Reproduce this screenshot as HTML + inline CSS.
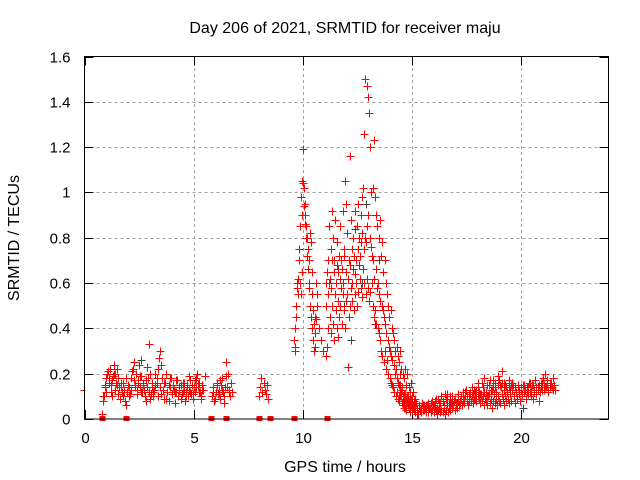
<!DOCTYPE html>
<html><head><meta charset="utf-8"><style>
html,body{margin:0;padding:0;background:#fff}
svg{display:block;font-family:"Liberation Sans","DejaVu Sans",sans-serif}
</style></head><body>
<svg id="chart" width="640" height="480" viewBox="0 0 640 480" xmlns="http://www.w3.org/2000/svg">
<text x="345" y="33" font-size="16" text-anchor="middle">Day 206 of 2021, SRMTID for receiver maju</text>
<text x="0" y="0" font-size="16" text-anchor="middle" transform="translate(19,238) rotate(-90)">SRMTID / TECUs</text>
<text x="345" y="472" font-size="16" text-anchor="middle">GPS time / hours</text>
<g id="grid"></g>
<g id="ticks"></g>
<g id="marks" shape-rendering="crispEdges"></g>
<rect x="84.5" y="56.5" width="524" height="362.5" fill="none" stroke="#000" stroke-width="1"/>
</svg>
<script>
const xTicks=[0,5,10,15,20];
const yTicks=[0,0.2,0.4,0.6,0.8,1,1.2,1.4,1.6];
const yTickLabels=["0","0.2","0.4","0.6","0.8","1","1.2","1.4","1.6"];
const segStart=[0.8,0.85,4.6,5.85,5.9,8.0,9.6,9.62,10.72,11.05,11.08,11.06,14.4,14.42,14.45];
const segStep=[0.05,0.07,0.05,0.05,0.08,0.05,0.04,0.04,0.1,0.055,0.055,0.055,0.05,0.1,0.07];
const segVals=[
[0.02,0.08,0.10,0.15,0.12,0.20,0.18,0.22,0.15,0.10,0.19,0.24,0.20,0.16,0.22,0.18,0.14,0.16,0.12,0.10,0.13,0.08,0.06,0.12,0.15,0.14,0.11,0.18,0.22,0.25,0.15,0.20,0.13,0.17,0.24,0.14,0.19,0.12,0.16,0.10,0.08,0.14,0.18,0.12,0.09,0.11,0.14,0.10,0.13,0.20,0.16,0.22,0.27,0.30,0.24,0.18,0.13,0.09,0.16,0.20,0.12,0.08,0.14,0.18,0.11,0.15,0.13,0.07,0.12,0.17,0.10,0.14,0.09,0.11,0.16,0.13],
[0.10,0.14,0.18,0.21,0.16,0.12,0.17,0.20,0.13,0.15,0.11,0.09,0.14,0.16,0.12,0.18,0.15,0.10,0.13,0.21,0.17,0.14,0.11,0.16,0.19,0.12,0.15,0.13,0.17,0.23,0.33,0.20,0.16,0.12,0.15,0.18,0.10,0.14,0.11,0.13,0.16,0.09,0.12,0.15,0.18,0.11,0.14,0.12,0.17,0.10,0.13,0.15,0.12,0.16,0.10,0.14,0.19,0.12,0.15,0.11,0.17,0.14,0.16,0.12,0.09,0.13],
[0.08,0.12,0.15,0.10,0.13,0.17,0.11,0.09,0.14,0.12,0.18,0.20,0.14,0.16,0.12,0.10,0.15,0.13,0.19],
[0.10,0.14,0.08,0.12,0.16,0.11,0.13,0.09,0.15,0.18,0.12,0.07,0.14,0.25,0.20,0.13,0.10,0.16,0.12],
[0.12,0.09,0.15,0.11,0.17,0.13,0.10,0.19,0.14,0.12,0.16],
[0.10,0.14,0.18,0.12,0.16,0.13,0.11,0.15,0.09],
[0.35,0.32,0.45,0.60,0.55,0.62,0.75,0.85,0.98,1.05,1.19,1.02,0.90,0.95,0.85,0.80,0.75,0.70,0.82,0.78,0.65,0.55,0.48,0.42,0.45,0.60,0.55],
[0.30,0.40,0.50,0.58,0.62,0.70,0.60,0.55,0.65,0.90,1.04,0.94,0.86,0.80,0.72,0.66,0.60,0.58,0.50,0.45,0.40,0.35,0.30,0.32,0.38,0.44,0.50],
[0.40,0.35,0.30],
[0.60,0.65,0.70,0.85,0.75,0.92,0.80,0.70,0.88,0.78,0.65,0.72,0.85,0.70,0.92,0.75,1.05,0.95,0.82,0.70,1.16,0.88,0.75,0.80,0.92,0.70,0.85,0.95,0.80,0.90,0.98,1.02,1.26,1.50,1.47,1.42,1.35,1.20,1.00,1.02,1.23,0.98,0.90,0.85,0.80,0.88,0.72,0.78,0.65,0.70,0.60,0.55,0.50,0.45,0.48,0.40,0.38,0.35,0.30,0.32,0.28,0.25,0.30,0.22,0.20,0.18,0.22,0.15,0.20,0.14,0.12,0.16,0.10,0.12,0.09],
[0.50,0.55,0.60,0.62,0.58,0.70,0.65,0.55,0.60,0.68,0.52,0.62,0.58,0.66,0.60,0.72,0.65,0.55,0.62,0.70,0.68,0.60,0.66,0.72,0.64,0.70,0.75,0.68,0.72,0.78,0.82,0.75,0.80,0.78,0.85,0.90,0.80,0.76,0.72,0.70,0.62,0.66,0.58,0.60,0.55,0.52,0.50,0.48,0.45,0.42,0.38,0.35,0.32,0.30,0.28,0.26,0.24,0.20,0.22,0.18,0.16,0.15,0.12,0.14,0.10,0.11,0.09,0.10,0.08,0.07,0.09,0.08,0.06,0.07,0.05],
[0.28,0.32,0.40,0.45,0.38,0.50,0.42,0.35,0.48,0.40,0.36,0.45,0.50,0.42,0.55,0.48,0.40,0.52,0.23,0.45,0.50,0.58,0.52,0.48,0.55,0.60,0.50,0.56,0.62,0.58,0.54,0.66,0.60,0.55,0.62,0.58,0.52,0.56,0.60,0.50,0.45,0.48,0.42,0.40,0.38,0.35,0.30,0.28,0.25,0.30,0.22,0.26,0.20,0.18,0.16,0.15,0.14,0.12,0.10,0.12,0.09,0.08,0.10,0.07,0.06,0.08,0.05,0.06,0.07,0.05,0.04,0.06,0.05,0.04,0.03],
[0.15,0.12,0.10,0.13,0.08,0.11,0.09,0.07,0.10,0.08,0.06,0.09,0.07,0.05,0.08,0.06,0.07,0.05,0.06,0.04,0.05,0.07,0.04,0.06,0.05,0.03,0.06,0.04,0.05,0.03,0.04,0.06,0.03,0.05,0.04,0.02,0.04,0.05,0.03,0.04,0.03,0.05,0.02,0.04,0.06,0.03,0.05,0.04,0.07,0.05,0.06,0.04,0.07,0.05,0.08,0.06,0.07,0.09,0.06,0.08,0.07,0.10,0.08,0.06,0.09,0.11,0.08,0.10,0.07,0.09,0.12,0.08,0.10,0.09,0.07,0.11,0.08,0.10,0.06,0.09,0.08,0.06,0.10,0.07,0.09,0.05,0.08,0.11,0.07,0.09,0.06,0.10,0.08,0.07,0.11,0.09,0.06,0.10,0.08,0.12,0.09,0.07,0.11,0.08,0.13,0.10,0.07,0.12,0.09,0.14,0.11,0.08,0.13,0.10,0.15,0.12,0.09,0.14,0.11,0.16,0.12,0.10,0.15,0.09,0.13,0.17,0.11,0.14,0.08,0.12,0.16,0.13,0.18,0.15,0.20,0.14,0.17,0.13,0.16,0.15,0.14,0.18,0.15,0.13],
[0.10,0.07,0.05,0.04,0.06,0.03,0.05,0.04,0.02,0.05,0.03,0.06,0.04,0.07,0.05,0.08,0.06,0.09,0.07,0.10,0.08,0.11,0.09,0.07,0.10,0.08,0.06,0.09,0.07,0.10,0.12,0.09,0.11,0.08,0.13,0.10,0.14,0.11,0.16,0.12,0.10,0.15,0.13,0.17,0.14,0.19,0.15,0.21,0.16,0.14,0.17,0.15],
[0.20,0.14,0.09,0.11,0.06,0.08,0.05,0.07,0.04,0.06,0.03,0.05,0.02,0.04,0.03,0.05,0.04,0.06,0.03,0.05,0.07,0.04,0.06,0.08,0.05,0.09,0.07,0.10,0.08,0.06,0.09,0.11,0.07,0.10,0.08,0.06,0.09,0.07,0.11,0.08,0.10,0.12,0.09,0.13,0.10,0.08,0.12,0.14,0.11,0.09,0.13,0.16,0.12,0.10,0.14,0.18,0.12,0.15,0.11,0.17,0.13,0.14,0.16,0.12,0.15,0.17,0.14,0.16,0.13,0.15,0.12,0.14,0.13,0.16,0.15,0.14,0.12,0.15,0.13,0.14,0.11,0.15,0.13,0.12,0.14,0.16,0.13,0.15,0.12,0.14,0.13,0.15,0.14,0.16,0.13,0.14,0.15,0.12,0.14,0.16,0.13]
];
const darkTimes=[2.6,11.6,11.9,12.2,12.4,12.7,12.9,13.3,13.5,13.7,14.0,20.1];
const darkVals=[0.26,0.66,0.50,0.35,0.84,0.60,0.95,0.42,0.70,0.25,0.18,0.05];
const zeroTimes=[0.8,1.9,5.8,6.5,8.0,8.5,9.6,11.1];
const edgeTimes=[0];
const edgeVals=[0.13];

const NS="http://www.w3.org/2000/svg";
const X0=84.5,X1=608.5,Y0=419,Y1=56.5;
const xs=t=>X0+(t/24)*(X1-X0);
const ys=v=>Y0-(v/1.6)*(Y0-Y1);
function mk(tag,attrs,parent){const e=document.createElementNS(NS,tag);for(const k in attrs)e.setAttribute(k,attrs[k]);parent.appendChild(e);return e;}
const grid=document.getElementById('grid'),ticks=document.getElementById('ticks'),marks=document.getElementById('marks');
xTicks.forEach((t,i)=>{
  const x=Math.round(xs(t))+0.5;
  if(i>0){const g=mk('line',{x1:x,x2:x,y1:Y0,y2:Y1,stroke:'#a0a0a0','stroke-dasharray':'3,3'},grid);
  
  }
  const a=mk('line',{x1:x,x2:x,y1:Y0,y2:Y0-9,stroke:'#000'},ticks);
  
  
  const b=mk('line',{x1:x,x2:x,y1:Y1,y2:Y1+9,stroke:'#000'},ticks);
  
  
  const l=mk('text',{x:x,y:Y0+24,'font-size':15,'text-anchor':'middle'},ticks);l.textContent=String(t);
  
  
});
yTicks.forEach((v,i)=>{
  const y=Math.round(ys(v))+0.5;
  if(i>0&&i<yTicks.length-1){const g=mk('line',{x1:X0,x2:X1,y1:y,y2:y,stroke:'#a0a0a0','stroke-dasharray':'3,3'},grid);
  
  }
  const a=mk('line',{x1:X0,x2:X0+9,y1:y,y2:y,stroke:'#000'},ticks);
  
  
  const b=mk('line',{x1:X1,x2:X1-9,y1:y,y2:y,stroke:'#000'},ticks);
  
  
  const l=mk('text',{x:X0-14,y:y+5,'font-size':15,'text-anchor':'end'},ticks);l.textContent=yTickLabels[i];
  
  
});
let d='';
function cross(t,v){const x=Math.round(xs(t))+0.5,y=Math.round(ys(v))+0.5;return `M${x-4} ${y}h8M${x} ${y-4}v8`;}
segVals.forEach((vals,s)=>{vals.forEach((v,i)=>{d+=cross(segStart[s]+i*segStep[s],v);});});
let dd='';darkTimes.forEach((t,i)=>{dd+=cross(t,darkVals[i]);});
const dk=mk('path',{d:dd,stroke:'#404040','stroke-width':1,fill:'none'},marks);


const red=mk('path',{d:d,stroke:'#ff0000','stroke-width':1,fill:'none'},marks);


zeroTimes.forEach(t=>{const r=mk('rect',{x:Math.round(xs(t))-2.5,y:Y0-3,width:6,height:5,fill:'#ff0000'},marks);

});
edgeTimes.forEach((t,i)=>{const e=mk('line',{x1:xs(t)-4,x2:xs(t)+1,y1:Math.round(ys(edgeVals[i]))+0.5,y2:Math.round(ys(edgeVals[i]))+0.5,stroke:'#ff0000'},marks);

});
</script>
</body></html>
